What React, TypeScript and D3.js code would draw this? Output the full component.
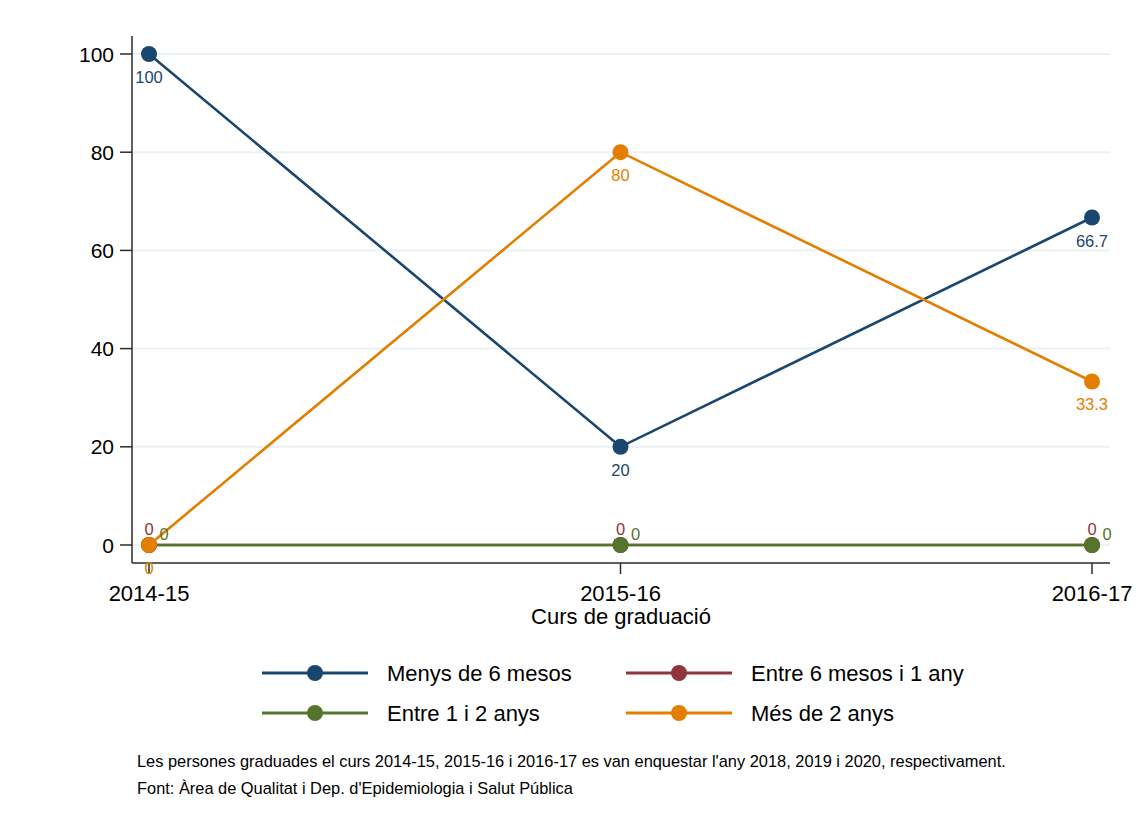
import React from "react";
import * as d3 from "d3";

const categories = ["2014-15", "2015-16", "2016-17"];
const menys6mesos = [100, 20, 66.7];
const entre6mesos1any = [0, 0, 0];
const entre1i2anys = [0, 0, 0];
const mes2anys = [0, 80, 33.3];
const yTicks = [0, 20, 40, 60, 80, 100];
const seriesNames = ["Menys de 6 mesos", "Entre 6 mesos i 1 any", "Entre 1 i 2 anys", "Més de 2 anys"];
const labelTexts = [["100", "20", "66.7"], ["0", "0", "0"], ["0", "0", "0"], ["0", "80", "33.3"]];
const xTitle = "Curs de graduació";
const notes = [
  "Les persones graduades el curs 2014-15, 2015-16 i 2016-17 es van enquestar l'any 2018, 2019 i 2020, respectivament.",
  "Font: Àrea de Qualitat i Dep. d'Epidemiologia i Salut Pública",
];

const colors = ["#1a476f", "#90353b", "#55752f", "#e37e00"];
const FONT = "'Liberation Sans', Arial, Helvetica, sans-serif";

export default function App() {
  const W = 1136, H = 825;
  const x = d3.scalePoint<string>().domain(categories).range([149, 1092]);
  const y = d3.scaleLinear().domain([0, 100]).range([545, 54]);
  const axL = 132, axR = 1110, axB = 563, axT = 36;
  const seriesVals = [menys6mesos, entre6mesos1any, entre1i2anys, mes2anys];
  const line = d3.line<number>().x((_, i) => x(categories[i])!).y((v) => y(v));
  const labOff: [number, number][] = [[0, 23], [0, -16], [15, -11], [0, 23]];
  const legendItems = [
    { i: 0, lx: 262, ty: 673 },
    { i: 1, lx: 626, ty: 673 },
    { i: 2, lx: 262, ty: 713 },
    { i: 3, lx: 626, ty: 713 },
  ];
  return (
    <svg width={W} height={H} style={{ position: "absolute", left: 0, top: 0, background: "#fff" }} fontFamily={FONT}>
      <rect x={0} y={0} width={W} height={H} fill="#fff" />
      {yTicks.map((t) => (
        <line key={"g" + t} x1={axL} x2={axR} y1={y(t)} y2={y(t)} stroke="#eaf2f3" strokeWidth={2} />
      ))}
      <line x1={axL} x2={axL} y1={axT} y2={axB} stroke="#2b2b2b" strokeWidth={1.5} />
      <line x1={axL} x2={axR} y1={axB} y2={axB} stroke="#2b2b2b" strokeWidth={1.5} />
      {yTicks.map((t) => (
        <g key={"yt" + t}>
          <line x1={axL - 12} x2={axL} y1={y(t)} y2={y(t)} stroke="#2b2b2b" strokeWidth={1.5} />
          <text x={axL - 18} y={y(t)} textAnchor="end" dominantBaseline="central" fontSize={21} fill="#000">
            {t}
          </text>
        </g>
      ))}
      {categories.map((c) => (
        <g key={"xt" + c}>
          <line x1={x(c)!} x2={x(c)!} y1={axB} y2={axB + 11} stroke="#2b2b2b" strokeWidth={1.5} />
          <text x={x(c)!} y={axB + 38} textAnchor="middle" fontSize={22} fill="#000">
            {c}
          </text>
        </g>
      ))}
      <text x={621} y={624} textAnchor="middle" fontSize={22} fill="#000">{xTitle}</text>
      {seriesVals.map((vals, s) => (
        <g key={"s" + s}>
          <path d={line(vals)!} fill="none" stroke={colors[s]} strokeWidth={2.6} />
          {vals.map((v, i) => (
            <circle key={i} cx={x(categories[i])!} cy={y(v)} r={8} fill={colors[s]} />
          ))}
        </g>
      ))}
      {seriesVals.map((vals, s) =>
        vals.map((v, i) => (
          <text
            key={"l" + s + "-" + i}
            x={x(categories[i])! + labOff[s][0]}
            y={y(v) + labOff[s][1]}
            textAnchor="middle"
            dominantBaseline="central"
            fontSize={16.5}
            fill={colors[s]}
          >
            {labelTexts[s][i]}
          </text>
        ))
      )}
      {legendItems.map(({ i, lx, ty }) => (
        <g key={"lg" + i}>
          <line x1={lx} x2={lx + 106} y1={ty} y2={ty} stroke={colors[i]} strokeWidth={3} />
          <circle cx={lx + 53} cy={ty} r={8} fill={colors[i]} />
          <text x={lx + 125} y={ty} dominantBaseline="central" fontSize={22} fill="#000">
            {seriesNames[i]}
          </text>
        </g>
      ))}
      {notes.map((n, k) => (
        <text key={"n" + k} x={137} y={767 + k * 27} fontSize={16.4} fill="#000">
          {n}
        </text>
      ))}
    </svg>
  );
}
